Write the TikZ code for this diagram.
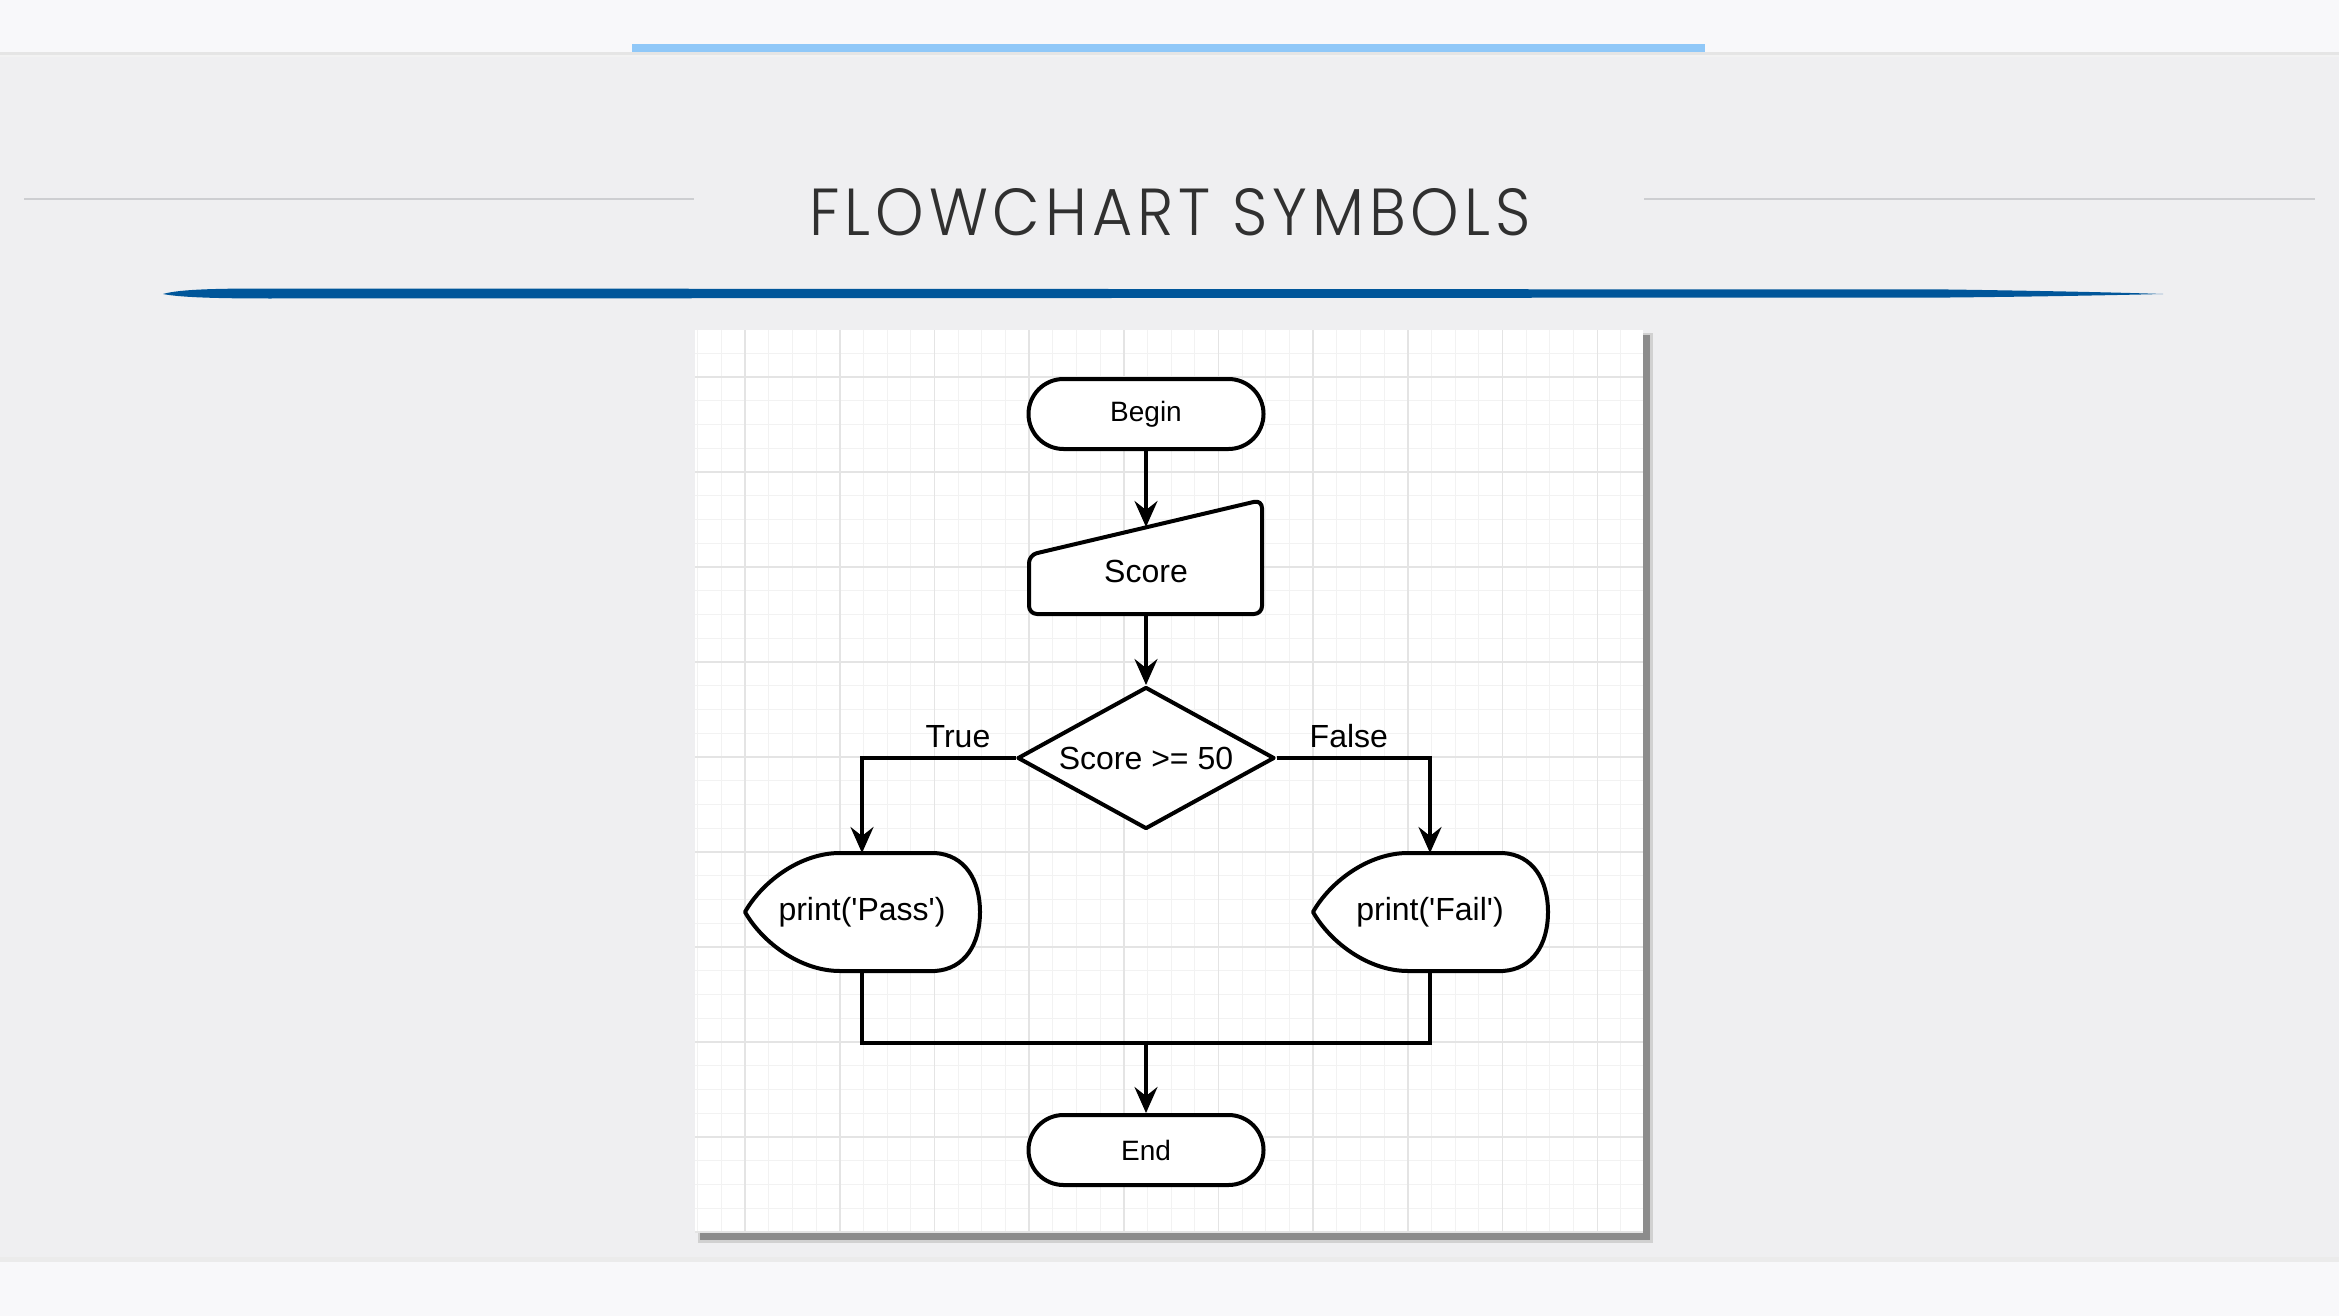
\documentclass[tikz,border=0pt]{standalone}
\usepackage{fontspec}
\newfontfamily\diagfont{Liberation Sans}
\newfontfamily\titlefont[LetterSpace=8]{Poppins Light}
\usetikzlibrary{shapes.geometric,arrows.meta,calc}
\definecolor{bandbg}{HTML}{F8F8FA}
\definecolor{mainbg}{HTML}{EFEFF1}
\definecolor{barblue}{HTML}{90C8F8}
\definecolor{brushblue}{HTML}{00569A}
\definecolor{titlegray}{HTML}{303030}
\definecolor{rulegray}{HTML}{CDCED1}
\definecolor{minorgridc}{HTML}{F2F2F2}
\definecolor{majorgridc}{HTML}{E4E4E4}
\begin{document}
\begin{tikzpicture}[x=1pt,y=-1pt,
  shapeline/.style={line width=4pt, draw=black, fill=white, line join=round},
  conn/.style={line width=3.6pt, draw=black},
  arr/.style={conn, -{Stealth[length=26pt,width=23pt,inset=9pt]}},
  terminal/.style={shapeline, rectangle, rounded corners=35pt, minimum width=235pt, minimum height=70pt, inner sep=0pt, font=\diagfont\fontsize{28}{32}\selectfont},
  holder/.style={rectangle, inner sep=0pt, outer sep=0pt, font=\diagfont\fontsize{32}{36}\selectfont},
  lbl/.style={inner sep=0pt, font=\diagfont\fontsize{32}{36}\selectfont},
  minorgrid/.style={draw=minorgridc, line width=1pt},
  majorgrid/.style={draw=majorgridc, line width=1.6pt}
]
\useasboundingbox (0,0) rectangle (2339,1316);
% backgrounds
\fill[mainbg] (0,0) rectangle (2339,1316);
\fill[bandbg] (0,0) rectangle (2339,52);
\fill[black!10] (0,52) rectangle (2339,55);
\fill[black!5] (0,55) rectangle (2339,57);
\fill[barblue] (632,44) rectangle (1705,52);
\fill[black!8] (0,1257) rectangle (2339,1262);
\fill[bandbg] (0,1262) rectangle (2339,1316);
% title rules
\draw[rulegray, line width=2pt] (24,199) -- (694,199);
\draw[rulegray, line width=2pt] (1644,199) -- (2315,199);
% title
\node[anchor=base, inner sep=0pt, text=titlegray] (title) at (1170,235)
  {\resizebox{721pt}{47pt}{\titlefont FLOWCHART SYMBOLS}};
% brush stroke
\fill[brushblue] (163,294) .. controls (180,289) and (220,288.5) .. (270,288.5)
  -- (1950,289.5) .. controls (2050,291) and (2120,292.5) .. (2163,294)
  .. controls (2120,295) and (2050,296.5) .. (1950,297.5)
  -- (270,298.5) .. controls (220,298.5) and (180,297.5) .. (163,294) -- cycle;
% panel shadow
\fill[black!18] (698,333) rectangle (1653,1243);
\fill[black!45] (700,335) rectangle (1650,1240);
\fill[white] (695,330) rectangle (1643,1233);
% grid
\begin{scope}
\clip (695,330) rectangle (1643,1233);
\foreach \i in {-2,...,37} \draw[minorgrid] ({745+23.675*\i},330) -- ({745+23.675*\i},1233);
\foreach \j in {-2,...,36} \draw[minorgrid] (695,{377+23.75*\j}) -- (1643,{377+23.75*\j});
\foreach \k in {0,...,9} \draw[majorgrid] ({745+94.7*\k},330) -- ({745+94.7*\k},1233);
\foreach \k in {0,...,9} \draw[majorgrid] (695,{377+95*\k}) -- (1643,{377+95*\k});
\end{scope}
% nodes
\node[terminal] (begin) at (1146,414) {Begin};
\draw[shapeline, rounded corners=8pt] (1029,614) -- (1029,555) -- (1262,500) -- (1262,614) -- cycle;
\node[holder, minimum width=233pt, minimum height=88pt] (score) at (1146,571) {Score};
\node[shapeline, diamond, minimum width=257pt, minimum height=142pt, inner sep=0pt] (dec) at (1146,758) {};
\node[lbl] (dectext) at (dec.center) {Score >= 50};
\node[holder, minimum width=235pt, minimum height=118pt] (pass) at (862,912) {};
\node[holder, minimum width=235pt, minimum height=118pt] (fail) at (1430,912) {};
\foreach \n in {pass,fail}{
  \draw[shapeline, shift={(\n.center)}] (-22,-59) -- (73,-59)
    .. controls (103,-57) and (118,-32) .. (118,0)
    .. controls (118,32) and (103,57) .. (73,59)
    -- (-22,59)
    .. controls (-62,59) and (-100,30) .. (-117,0)
    .. controls (-100,-30) and (-62,-59) .. (-22,-59) -- cycle;
}
\node[lbl] (passtext) at (pass.center) {print('Pass')};
\node[lbl] (failtext) at (fail.center) {print('Fail')};
\node[terminal] (end) at (1146,1150) {End};
% connectors
\draw[arr] (begin.south) -- (score.north);
\draw[arr] (score.south) -- (dec.north);
\draw[arr] (dec.west) -| (pass.north);
\draw[arr] (dec.east) -| (fail.north);
\coordinate (merge) at (1146,1043);
\draw[conn] (pass.south) |- (merge) -| (fail.south);
\draw[arr] (merge) -- (end.north);
% labels
\node[lbl, anchor=base east] (truelbl) at ($(dec.west)+(-25,-11)$) {True};
\node[lbl, anchor=base west] (falselbl) at ($(dec.east)+(33,-11)$) {False};
\end{tikzpicture}
\end{document}
